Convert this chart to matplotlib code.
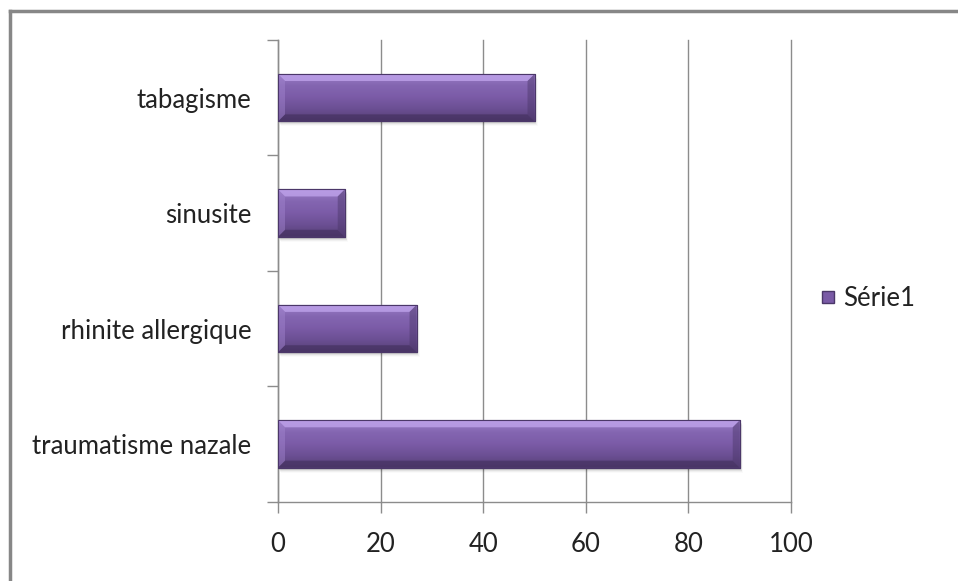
import matplotlib.pyplot as plt
import numpy as np
from matplotlib.colors import LinearSegmentedColormap
from matplotlib.lines import Line2D
from matplotlib.patches import Polygon, Rectangle

categories = ['traumatisme nazale', 'rhinite allergique', 'sinusite', 'tabagisme']
values = [90, 27, 13, 50]
x_ticks = [0, 20, 40, 60, 80, 100]
series_name = 'Série1'

plt.rcParams['font.family'] = ['Lato', 'DejaVu Sans']

BAR_MAIN = '#7a5aa6'
BAR_EDGE = '#4b3769'
GRID = '#8c8c8c'
TEXT = '#222222'

fig = plt.figure(figsize=(9.58, 5.81), dpi=100)
ax = fig.add_axes([0.2902, 0.1365, 0.5355, 0.7947])

ypos = np.arange(len(categories))
ax.set_xlim(0, 100)
ax.set_ylim(-0.5, len(categories) - 0.5)

bars = ax.barh(ypos, values, height=0.41, color=BAR_MAIN,
               edgecolor=BAR_EDGE, linewidth=0.8, zorder=3)

# convert a pixel size into data units for bevel / shadow
px_x = 100 / (ax.get_position().width * fig.get_figwidth() * fig.dpi)
px_y = len(categories) / (ax.get_position().height * fig.get_figheight() * fig.dpi)

grad = LinearSegmentedColormap.from_list(
    'bar', ['#574077', '#6b4f93', '#7b5ba7', '#8466b1', '#9a7cc7'])
shade = np.linspace(0, 1, 64).reshape(-1, 1)

for bar in bars:
    x0, y0 = bar.get_x(), bar.get_y()
    w, h = bar.get_width(), bar.get_height()
    x1, y1 = x0 + w, y0 + h

    # soft drop shadow
    for k, a in zip(range(1, 6), [0.12, 0.09, 0.06, 0.04, 0.02]):
        ax.add_patch(Rectangle((x0 + k * px_x * 0.6, y0 - k * px_y), w, h,
                               facecolor='black', edgecolor='none',
                               alpha=a, zorder=2))

    im = ax.imshow(shade, cmap=grad, aspect='auto', origin='lower',
                   extent=(x0, x1, y0, y1), zorder=3.1)
    im.set_clip_path(bar)

    bx, by = 7 * px_x, 7 * px_y
    bx = min(bx, w / 2)
    top = Polygon([(x0, y1), (x1, y1), (x1 - bx, y1 - by), (x0 + bx, y1 - by)],
                  facecolor='#c2a6ee', edgecolor='none', alpha=0.75, zorder=3.2)
    bottom = Polygon([(x0, y0), (x1, y0), (x1 - bx, y0 + by), (x0 + bx, y0 + by)],
                     facecolor='#3e2c58', edgecolor='none', alpha=0.55, zorder=3.2)
    left = Polygon([(x0, y0), (x0, y1), (x0 + bx, y1 - by), (x0 + bx, y0 + by)],
                   facecolor='#a386d0', edgecolor='none', alpha=0.45, zorder=3.2)
    right = Polygon([(x1, y0), (x1, y1), (x1 - bx, y1 - by), (x1 - bx, y0 + by)],
                    facecolor='#4a3668', edgecolor='none', alpha=0.45, zorder=3.2)
    for p in (top, bottom, left, right):
        ax.add_patch(p)
    ax.add_patch(Rectangle((x0, y0), w, h, facecolor='none',
                           edgecolor=BAR_EDGE, linewidth=0.8, zorder=3.3))

ax.set_xticks(x_ticks)
ax.set_xticklabels([str(t) for t in x_ticks], fontsize=18.5, color=TEXT)
ax.set_yticks(ypos)
ax.set_yticklabels(categories, fontsize=18.5, color=TEXT)
ax.set_yticks(np.arange(-0.5, len(categories)), minor=True)

ax.tick_params(axis='y', which='major', length=0, pad=19)
ax.tick_params(axis='y', which='minor', length=8, color=GRID, width=1)
ax.tick_params(axis='x', which='major', length=8, color=GRID, width=1, pad=14)

ax.grid(axis='x', color=GRID, linewidth=1, zorder=0)
for gl in ax.get_xgridlines():
    gl.set_clip_on(False)
ax.set_axisbelow(True)
for side in ('top', 'right'):
    ax.spines[side].set_visible(False)
for side in ('left', 'bottom'):
    ax.spines[side].set_color(GRID)
    ax.spines[side].set_linewidth(1)

# legend on the right
handle = Line2D([], [], marker='s', linestyle='none', markersize=8,
                markerfacecolor=BAR_MAIN, markeredgecolor=BAR_EDGE)
fig.legend([handle], [series_name], loc='center left',
           bbox_to_anchor=(0.835, 0.487), frameon=False, fontsize=18.5,
           handletextpad=0.0, handlelength=1.2, borderpad=0,
           labelcolor=TEXT)

# outer chart frame (top and left edges)
fig.add_artist(Line2D([9.5 / 958, 1], [1 - 11 / 581, 1 - 11 / 581],
                      color='#878787', linewidth=2.5, transform=fig.transFigure))
fig.add_artist(Line2D([9.5 / 958, 9.5 / 958], [0, 1 - 11 / 581],
                      color='#878787', linewidth=2.5, transform=fig.transFigure))

fig.savefig('out.png', dpi=100)
